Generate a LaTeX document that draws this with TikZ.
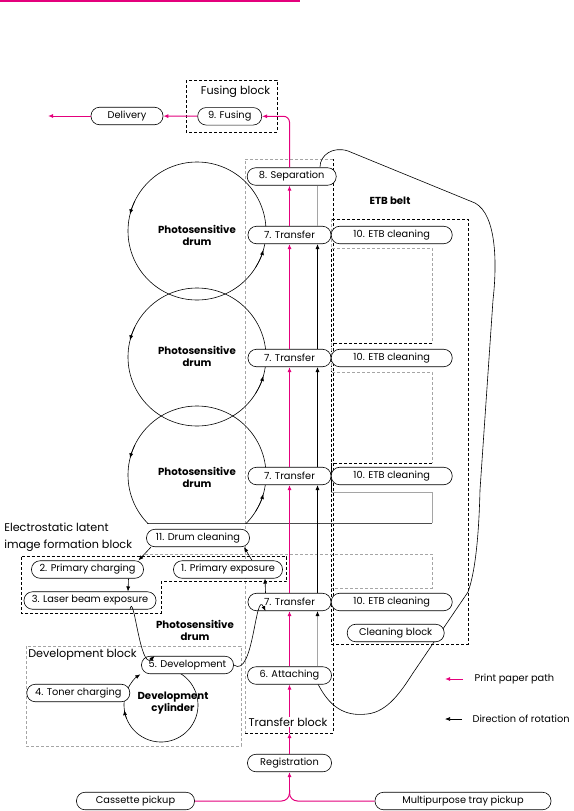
\documentclass[tikz,border=0pt]{standalone}
\usepackage{fontspec}
\setmainfont{Poppins}
\usetikzlibrary{arrows.meta}
\definecolor{paperpink}{RGB}{228,0,124}
\definecolor{ghostgray}{RGB}{165,165,165}

\begin{document}
\begin{tikzpicture}[x=1pt, y=-1pt, line width=0.6pt,
  font=\fontsize{9.8}{11}\selectfont, >={Latex[length=5pt,width=4pt]},
  stage/.style={draw, rectangle, rounded corners=8.5pt, fill=white, minimum height=17.5pt, inner sep=0pt},
  paper/.style={paperpink, line width=1pt},
  blockline/.style={dash pattern=on 3pt off 2pt},
  ghostline/.style={ghostgray, dash pattern=on 3pt off 2pt},
  blocklabel/.style={font=\fontsize{11.2}{17.5}\selectfont},
  drumlabel/.style={font=\fontsize{10.2}{12}\selectfont\bfseries, align=center}]
\useasboundingbox (0,0) rectangle (573,811);

% top rule
\draw[paperpink, line width=1.5pt] (0,0.75) -- (300,0.75);

% blocks
\draw[blockline] (186,80) rectangle (277,132);
\draw[ghostline] (333,159) -- (245,159) -- (245,733);
\draw[blockline] (245,733) -- (333,733) -- (333,159);
\draw[blockline] (331,219) rectangle (468,644);
\draw[blockline] (21.7,556.7) -- (286.7,556.7) -- (286.7,581.7) -- (161,581.7) -- (161,613.3) -- (21.7,613.3) -- cycle;
\draw[ghostline] (26,646) rectangle (241,746);

% belt outlines
\draw[ghostline] (331,219) -- (331,248) -- (432,248) -- (432,343);
\draw[blockline] (432,343) -- (333,343);
\draw[ghostline] (331,343) -- (331,372) -- (432,372) -- (432,463);
\draw[blockline] (432,463) -- (333,463);
\draw (331,463) -- (331,492);
\draw[ghostgray] (331,492) -- (432,492) -- (432,523);
\draw[black!70] (432,523) -- (147,523);
\draw[ghostline] (145,554) -- (432,554) -- (432,588) -- (331,588);

% ETB belt
\draw (318,684) .. controls (332,712) and (350,716) .. (367,714)
  .. controls (388,712) and (402,690) .. (413,673)
  -- (468,592)
  .. controls (476,570) and (479,530) .. (480,490)
  -- (493,300)
  .. controls (497,265) and (497,215) .. (475,203)
  -- (348,151)
  .. controls (333,146) and (320,155) .. (320,167);

% drums
\draw (197,231) circle[radius=69];
\draw (197,357) circle[radius=69];
\begin{scope}
  \clip (100,380) rectangle (300,523);
  \draw (197,475) circle[radius=69];
\end{scope}
\foreach \cy in {231,357,475} {
  \draw[->] (197,\cy) ++(206:69) arc[start angle=206, end angle=194, radius=69];
  \draw[->] (197,\cy) ++(32:69) arc[start angle=32, end angle=16, radius=69];
}
\draw[->] (161,705) ++(-65:37) arc[start angle=-65, end angle=236, radius=37];
\draw[->] (161,705) ++(158:37) arc[start angle=158, end angle=172, radius=37];

% stages
\node[stage, minimum width=72pt] (delivery) at (127,116) {Delivery};
\node[stage, minimum width=64pt] (fusing) at (229.7,116.3) {9. Fusing};
\node[stage, minimum width=89pt] (sep) at (291.7,176.5) {8. Separation};
\node[stage, minimum width=83pt] (tr1) at (289.5,235) {7. Transfer};
\node[stage, minimum width=83pt] (tr2) at (289.5,358) {7. Transfer};
\node[stage, minimum width=83pt] (tr3) at (289.5,476) {7. Transfer};
\node[stage, minimum width=83pt] (tr4) at (289.5,602) {7. Transfer};
\node[stage, minimum width=121pt] (etb1) at (391.7,235) {10. ETB cleaning};
\node[stage, minimum width=121pt] (etb2) at (391.7,358) {10. ETB cleaning};
\node[stage, minimum width=121pt] (etb3) at (391.7,476) {10. ETB cleaning};
\node[stage, minimum width=121pt] (etb4) at (391.7,602) {10. ETB cleaning};
\node[stage, minimum width=84pt] (attach) at (289.5,675.5) {6. Attaching};
\node[stage, minimum width=84pt] (regist) at (289.5,763) {Registration};
\node[stage, minimum width=118pt] (cassette) at (135.5,801) {Cassette pickup};
\node[stage, minimum width=176pt] (multi) at (463,801) {Multipurpose tray pickup};
\node[stage, minimum width=103pt] (drumclean) at (198,538) {11. Drum cleaning};
\node[stage, minimum width=112pt] (primchg) at (87.5,569.5) {2. Primary charging};
\node[stage, minimum width=109pt] (primexp) at (228,569.5) {1. Primary exposure};
\node[stage, minimum width=132pt] (laser) at (90,600.5) {3. Laser beam exposure};
\node[stage, minimum width=92pt] (devel) at (187.5,665) {5. Development};
\node[stage, minimum width=103pt] (toner) at (78.3,693) {4. Toner charging};
\node[stage, minimum width=97pt] (cleanblk) at (395.7,633) {Cleaning block};

% labels
\node[blocklabel] (fusingblk) at (235.5,92) {Fusing block};
\node[drumlabel] (etbbelt) at (390,201) {ETB belt};
\node[drumlabel] (drum1) at (197,235) {Photosensitive\\drum};
\node[drumlabel] (drum2) at (197,356) {Photosensitive\\drum};
\node[drumlabel] (drum3) at (197,477) {Photosensitive\\drum};
\node[drumlabel] (drum4) at (195,630) {Photosensitive\\drum};
\node[drumlabel] (cylinder) at (173,703) {Development\\cylinder};
\node[blocklabel, anchor=west, align=left, inner sep=1pt] (latentblk) at (3,537) {Electrostatic latent\\image formation block};
\node[blocklabel, anchor=west, inner sep=1pt] (develblk) at (27,655) {Development block};

% paper path
\coordinate (exit) at (48,116);
\coordinate (fork) at (289.5,790);
\coordinate (tbottom) at (289.5,733);
\draw[paper,->] (fusing) -- (delivery);
\draw[paper,->] (delivery) -- (exit);
\draw[paper,->,rounded corners=6pt] (tr1.north |- sep.north) |- (fusing.east);
\draw[paper, rounded corners=8pt] (cassette.east) -| (fork);
\draw[paper, rounded corners=8pt] (multi.west) -| (fork);
\draw[paper,->] (fork) -- (regist);
\draw[paper,->] (regist) -- (tbottom);
\draw[paper,->] (tbottom) -- (attach);
\draw[paper,->] (attach) -- (tr4);
\draw[paper,->] (tr4) -- (tr3);
\draw[paper,->] (tr3) -- (tr2);
\draw[paper,->] (tr2) -- (tr1);
\draw[paper,->] (tr1) -- (tr1 |- sep.south);
\node[blocklabel, fill=white, inner sep=1pt] (transferblk) at (288,722) {Transfer block};

% belt rotation
\coordinate (beltA) at ([xshift=28pt]tr1.north);
\draw[ghostgray] (beltA) -- (beltA |- sep.south);
\draw[->] ([xshift=28pt]tr2.north) -- ([xshift=28pt]tr1.south);
\draw[->] ([xshift=28pt]tr3.north) -- ([xshift=28pt]tr2.south);
\draw[->] ([xshift=28pt]tr4.north) -- ([xshift=28pt]tr3.south);
\draw[ghostgray, -{Latex[length=5pt,width=4pt,black]}] ([xshift=28pt]attach.north) -- ([xshift=28pt]tr4.south);

% drum rotation
\draw[->] ([xshift=-24pt]tr4.north) -- ([xshift=37pt]primexp.south);
\draw[->] ([xshift=24pt]primexp.north) -- ([xshift=46pt]drumclean.south);
\draw[->] ([xshift=-47pt]drumclean.south) -- ([xshift=51pt]primchg.north);
\draw[->] ([xshift=41pt]primchg.south) -- ([xshift=38pt]laser.north);
\draw[->] ([xshift=40pt]laser.south) to[out=80, in=225] ([xshift=-33pt]devel.north);
\draw[->] (devel.east) to[out=-35, in=115] ([xshift=-24pt]tr4.south);

% legend
\node[anchor=west] (pplabel) at (471,679) {Print paper path};
\node[anchor=west] (rotlabel) at (469,719) {Direction of rotation};
\coordinate (ppend) at (445,679);
\coordinate (rotend) at (445,719);
\draw[paper,->] ([xshift=-8pt]pplabel.west) -- (ppend);
\draw[->] ([xshift=-7pt]rotlabel.west) -- (rotend);
\end{tikzpicture}
\end{document}
